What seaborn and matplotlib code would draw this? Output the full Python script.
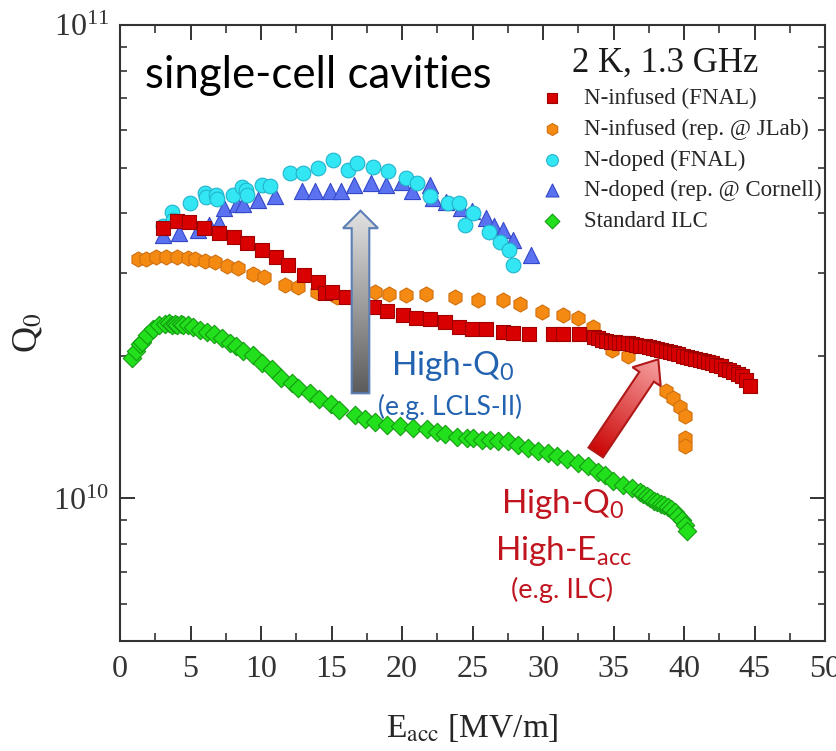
import numpy as np
import matplotlib
matplotlib.use("Agg")
import matplotlib.pyplot as plt
import seaborn as sns
from matplotlib.patches import FancyArrow
from matplotlib.colors import LinearSegmentedColormap
from matplotlib.ticker import MultipleLocator, LogLocator, NullFormatter

# === DATA (Q0 in units of 1e10) ===
nif_fnal_x = [3.05, 4.06, 4.91, 5.96, 7.04, 8.10, 8.99, 10.09, 11.09, 11.94, 13.02, 14.01,
              14.57, 15.05, 16.06, 17.99, 18.97, 20.07, 21.01, 21.96, 23.05, 24.04, 24.98,
              25.96, 27.16, 27.87, 28.99, 30.73, 31.44, 32.57,
              33.6, 33.9, 34.2, 34.5, 34.8, 35.1, 35.4, 35.7, 36.0, 36.3, 36.6, 36.9, 37.2,
              37.5, 37.8, 38.1, 38.4, 38.7, 39.0, 39.3, 39.6, 39.9, 40.2, 40.5, 40.8, 41.1,
              41.4, 41.7, 42.0, 42.3, 42.6, 42.9, 43.2, 43.5, 43.8, 44.1, 44.4, 44.7]
nif_fnal_q = [3.72, 3.86, 3.83, 3.73, 3.64, 3.56, 3.47, 3.35, 3.23, 3.11, 2.97, 2.86,
              2.71, 2.73, 2.66, 2.54, 2.49, 2.44, 2.41, 2.39, 2.36, 2.30, 2.28,
              2.28, 2.25, 2.24, 2.23, 2.23, 2.23, 2.22,
              2.19, 2.18, 2.16, 2.15, 2.14, 2.14, 2.13, 2.13, 2.13, 2.12, 2.11, 2.10, 2.10,
              2.09, 2.08, 2.07, 2.06, 2.05, 2.04, 2.03, 2.02, 2.00, 1.99, 1.98, 1.97, 1.96,
              1.95, 1.94, 1.93, 1.91, 1.90, 1.88, 1.87, 1.85, 1.83, 1.81, 1.78, 1.73]

nif_jlab_x = [1.31, 1.87, 2.55, 3.28, 4.02, 4.84, 5.32, 6.03, 6.74, 7.62, 8.39, 9.40, 10.23,
              11.70, 12.65, 14.0, 15.4, 18.12, 19.06, 20.27, 21.72, 23.76, 25.41, 27.13,
              28.40, 29.96, 31.42, 32.48, 33.57, 34.9, 36.05, 38.74, 39.22, 39.72, 40.09,
              40.09, 40.09]
nif_jlab_q = [3.21, 3.21, 3.23, 3.23, 3.23, 3.22, 3.20, 3.17, 3.16, 3.10, 3.07, 2.98, 2.93,
              2.82, 2.79, 2.73, 2.67, 2.73, 2.70, 2.69, 2.70, 2.66, 2.63, 2.63,
              2.58, 2.48, 2.44, 2.40, 2.30, 2.06, 2.00, 1.69, 1.63, 1.56, 1.49,
              1.34, 1.29]

nd_fnal_x = [3.03, 3.67, 3.74, 4.96, 6.03, 6.10, 6.81, 6.88, 7.99, 8.63, 8.94, 8.99, 10.05,
             10.64, 12.06, 12.96, 14.06, 15.09, 16.15, 16.83, 17.96, 19.03, 20.26, 21.09,
             21.99, 23.24, 24.06, 24.47, 25.01, 26.19, 26.95, 27.61, 27.85]
nd_fnal_q = [3.76, 4.03, 3.87, 4.21, 4.41, 4.34, 4.37, 4.29, 4.37, 4.55, 4.48, 4.37, 4.59,
             4.57, 4.87, 4.88, 4.98, 5.18, 4.95, 5.11, 5.02, 4.91, 4.76, 4.63,
             4.35, 4.21, 4.21, 3.78, 4.01, 3.66, 3.48, 3.35, 3.11]

nd_corn_x = [3.05, 4.18, 5.53, 6.31, 7.02, 7.38, 8.30, 8.72, 9.81, 10.99, 12.91, 13.83,
             14.89, 15.64, 16.63, 17.82, 18.87, 19.98, 20.71, 22.02, 22.22, 23.12, 24.15,
             24.98, 25.96, 26.56, 27.18, 27.89, 29.13]
nd_corn_q = [3.60, 3.63, 3.69, 3.78, 3.82, 4.10, 4.19, 4.19, 4.26, 4.36, 4.46, 4.46,
             4.46, 4.45, 4.59, 4.64, 4.59, 4.66, 4.46, 4.59, 4.32, 4.23, 4.11,
             4.04, 3.91, 3.76, 3.69, 3.52, 3.26]

ilc_x = [0.85, 1.17, 1.42, 1.54, 1.89, 2.36, 2.80, 3.19, 3.45, 3.67, 3.90, 4.06, 4.30, 4.49,
         4.84, 5.16, 5.67, 6.15, 6.70, 7.23, 7.78, 8.25, 8.72, 9.45, 10.05, 10.76, 11.43,
         12.18, 12.65, 13.50, 14.13, 14.98, 15.55, 16.67, 17.38, 18.09, 18.91, 19.86, 20.80,
         21.75, 22.46, 23.05, 23.88, 24.59, 25.06, 25.65, 26.24, 26.83, 27.54, 28.23, 28.96,
         29.65, 30.32, 30.99, 31.68, 32.50, 33.21, 33.92, 34.40, 34.99, 35.70, 36.29, 36.88,
         37.10, 37.35, 37.60, 37.85, 38.10, 38.35, 38.60, 38.85, 39.10, 39.35, 39.60, 39.85,
         40.05, 40.20]
ilc_q = [1.98, 2.05, 2.12, 2.14, 2.21, 2.28, 2.32, 2.34, 2.35, 2.33, 2.34, 2.33, 2.34, 2.33,
         2.32, 2.30, 2.27, 2.25, 2.23, 2.18, 2.13, 2.10, 2.05, 2.01, 1.93, 1.88, 1.80,
         1.75, 1.71, 1.67, 1.62, 1.58, 1.54, 1.50, 1.47, 1.45, 1.43, 1.42, 1.41,
         1.40, 1.38, 1.37, 1.35, 1.34, 1.34, 1.33, 1.33, 1.32, 1.32, 1.30, 1.28,
         1.26, 1.25, 1.23, 1.21, 1.19, 1.17, 1.14, 1.12, 1.09, 1.07, 1.05, 1.03,
         1.02, 1.01, 1.00, 0.99, 0.985, 0.975, 0.97, 0.96, 0.95, 0.935, 0.92, 0.90,
         0.88, 0.855]

# === ESTILO ===
sns.set_theme(style="ticks", rc={
    "xtick.direction": "in", "ytick.direction": "in",
    "xtick.top": True, "ytick.right": True,
    "xtick.major.size": 11, "ytick.major.size": 11,
    "xtick.minor.size": 6, "ytick.minor.size": 5,
    "xtick.major.width": 1.4, "ytick.major.width": 1.4,
    "xtick.minor.width": 1.2, "ytick.minor.width": 1.2,
    "axes.linewidth": 1.5, "axes.edgecolor": "#333333",
    "xtick.color": "#333333", "ytick.color": "#333333",
})
plt.rcParams["font.family"] = ["Liberation Serif", "DejaVu Serif"]
plt.rcParams["mathtext.fontset"] = "stix"
plt.rcParams["mathtext.rm"] = "Lato"

fig = plt.figure(figsize=(8.36, 7.51), dpi=100)
ax = fig.add_axes([120 / 836, 110 / 751, 705 / 836, 616 / 751])

def e10(v):
    return [q * 1e10 for q in v]

sns.scatterplot(x=ilc_x, y=e10(ilc_q), marker="D", s=88, color="#22e01c",
                edgecolor="#149c12", linewidth=0.8, label="Standard ILC", ax=ax, zorder=2)
sns.scatterplot(x=nd_corn_x, y=e10(nd_corn_q), marker="^", s=135, color="#5a72f0",
                edgecolor="#3448c8", linewidth=0.8, label="N-doped (rep. @ Cornell)", ax=ax, zorder=3)
sns.scatterplot(x=nd_fnal_x, y=e10(nd_fnal_q), marker="o", s=112, color="#33e6f4",
                edgecolor="#22b4cc", linewidth=0.8, label="N-doped (FNAL)", ax=ax, zorder=4)
sns.scatterplot(x=nif_jlab_x, y=e10(nif_jlab_q), marker="h", s=118, color="#f48a12",
                edgecolor="#d07010", linewidth=0.8, label="N-infused (rep. @ JLab)", ax=ax, zorder=5)
sns.scatterplot(x=nif_fnal_x, y=e10(nif_fnal_q), marker="s", s=88, color="#d80000",
                edgecolor="#a00000", linewidth=0.8, label="N-infused (FNAL)", ax=ax, zorder=6)

ax.set_yscale("log")
ax.set_xlim(0, 50)
ax.set_ylim(5e9, 1e11)
ax.xaxis.set_major_locator(MultipleLocator(5))
ax.xaxis.set_minor_locator(MultipleLocator(2.5))
ax.yaxis.set_major_locator(LogLocator(base=10))
ax.yaxis.set_minor_locator(LogLocator(base=10, subs=np.arange(2, 10)))
ax.yaxis.set_minor_formatter(NullFormatter())
ax.tick_params(axis="both", which="major", labelsize=23, pad=10)
ax.tick_params(axis="y", which="major", pad=8)

ax.set_xlabel(r"E$_{\mathrm{acc}}$ [MV/m]", fontsize=24, labelpad=20)
ax.set_ylabel(r"Q$_0$", fontsize=26, labelpad=6)

# leyenda
h, l = ax.get_legend_handles_labels()
orden = [4, 3, 2, 1, 0]
ax.legend([h[i] for i in orden], [l[i] for i in orden], loc="upper left",
          bbox_to_anchor=(0.598, 0.898), frameon=False, fontsize=16.5,
          handlelength=0.9, handletextpad=0.95, labelspacing=0.42,
          borderpad=0, borderaxespad=0, markerscale=0.8)

# === CAPA DE ANOTACIONES (coordenadas en pixeles) ===
ov = fig.add_axes([0, 0, 1, 1])
ov.set_axis_off()

def flecha(tail, tip, width, hw, hl, c_tail, c_tip, edge):
    dx, dy = tip[0] - tail[0], tip[1] - tail[1]
    arr = FancyArrow(tail[0], tail[1], dx, dy, width=width, head_width=hw,
                     head_length=hl, length_includes_head=True, facecolor="none",
                     edgecolor=edge, linewidth=1.5, zorder=6)
    ov.add_patch(arr)
    x0, x1 = min(tail[0], tip[0]) - hw, max(tail[0], tip[0]) + hw
    y0, y1 = min(tail[1], tip[1]) - hw, max(tail[1], tip[1]) + hw
    gx, gy = np.meshgrid(np.linspace(x0, x1, 200), np.linspace(y0, y1, 200))
    t = ((gx - tail[0]) * dx + (gy - tail[1]) * dy) / (dx ** 2 + dy ** 2)
    cmap = LinearSegmentedColormap.from_list("g", [c_tail, c_tip])
    im = ov.imshow(np.clip(t, 0, 1), cmap=cmap, extent=[x0, x1, y0, y1], origin="lower",
                   aspect="auto", vmin=0, vmax=1, zorder=5, interpolation="bilinear")
    im.set_clip_path(arr)

flecha((360.5, 393.3), (360.5, 210.7), 17.6, 35, 17.5, "#5c5c5c", "#e2e2e2", "#5b7fb5")
flecha((595.8, 452.5), (658.3, 359.3), 17.5, 34, 21, "#cc0808", "#f7a2a2", "#b01818")

ov.set_xlim(0, 836)
ov.set_ylim(751, 0)

sans = ["Lato", "DejaVu Sans"]
ov.text(145, 88, "single-cell cavities", fontsize=31.5, family=sans, color="black",
        ha="left", va="baseline")
ov.text(572, 72, "2 K, 1.3 GHz", fontsize=25, color="#1a1a1a", ha="left", va="baseline")

azul = "#2262b0"
rojo = "#c0141e"
ov.text(453, 375, r"High-Q$_\mathrm{0}$", fontsize=24, family=sans, color=azul,
        ha="center", va="baseline", math_fontfamily="custom")
ov.text(450, 407, "(e.g. LCLS-II)", fontsize=19, family=sans, color=azul,
        ha="center", va="center")
ov.text(563, 513, r"High-Q$_\mathrm{0}$", fontsize=24, family=sans, color=rojo,
        ha="center", va="baseline", math_fontfamily="custom")
ov.text(563, 560, r"High-E$_\mathrm{acc}$", fontsize=24, family=sans, color=rojo,
        ha="center", va="baseline", math_fontfamily="custom")
ov.text(562, 590, "(e.g. ILC)", fontsize=19.5, family=sans, color=rojo,
        ha="center", va="center")

fig.savefig("out.png", dpi=100)
